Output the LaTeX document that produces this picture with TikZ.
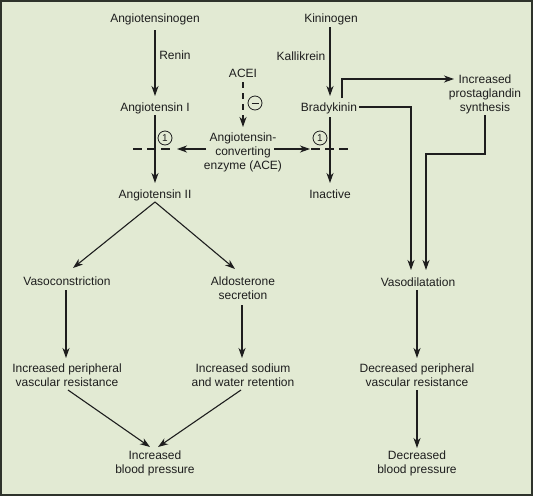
\documentclass[tikz,border=0pt]{standalone}
\usepackage{fontspec}
\setmainfont{Liberation Sans}
\usetikzlibrary{arrows.meta,calc}
\definecolor{bg}{HTML}{E2EAD3}
\definecolor{ink}{HTML}{1E1E1E}
\definecolor{frame}{HTML}{2E332B}
\begin{document}
\begin{tikzpicture}[x=1pt,y=-1pt,
  lbl/.style={anchor=base,inner sep=0pt,align=center,font=\fontsize{12}{14}\selectfont,text=ink},
  arr/.style={draw=ink,line width=1.1pt,-{Stealth[length=10pt,width=7pt,inset=3pt]}},
  ln/.style={draw=ink,line width=1.1pt},
  dsh/.style={draw=ink,line width=1.1pt,dash pattern=on 9pt off 5pt},
  vdsh/.style={draw=ink,line width=1.1pt,dash pattern=on 6pt off 5pt,-{Stealth[length=10pt,width=7pt,inset=3pt]}},
  num/.style={circle,draw=ink,line width=0.8pt,inner sep=0pt,minimum size=14pt,font=\fontsize{10}{10}\selectfont,text=ink}]
\fill[bg] (0,0) rectangle (533,496);
\draw[frame,line width=2pt] (1,1) rectangle (532,495);
\useasboundingbox (0,0) rectangle (533,496);

% nodes (anchor base = baseline of last line)
\node[lbl] (agen) at (155,22) {Angiotensinogen};
\node[lbl] (renin) at (175,59) {Renin};
\node[lbl] (ang1) at (155,111) {Angiotensin I};
\node[lbl] (acei) at (243,77) {ACEI};
\node[lbl] (ace) at (243,169) {Angiotensin-\\converting\\enzyme (ACE)};
\node[lbl] (ang2) at (155,198) {Angiotensin II};
\node[lbl] (kgen) at (331,22) {Kininogen};
\node[lbl] (kall) at (301,60) {Kallikrein};
\node[lbl] (brady) at (329,111) {Bradykinin};
\node[lbl] (inact) at (330,198) {Inactive};
\node[lbl] (prost) at (485,111) {Increased\\prostaglandin\\synthesis};
\node[lbl] (vdil) at (418,286) {Vasodilatation};
\node[lbl] (vcon) at (67,285) {Vasoconstriction};
\node[lbl] (aldo) at (243,299) {Aldosterone\\secretion};
\node[lbl] (ipvr) at (67,386) {Increased peripheral\\vascular resistance};
\node[lbl] (isw) at (243,386) {Increased sodium\\and water retention};
\node[lbl,font=\fontsize{12}{13.5}\selectfont] (ibp) at (155,473) {Increased\\blood pressure};
\node[lbl] (dpvr) at (417,386) {Decreased peripheral\\vascular resistance};
\node[lbl,font=\fontsize{12}{13.5}\selectfont] (dbp) at (417,473) {Decreased\\blood pressure};

% inhibition marks
\node[num] (minus) at (255,103) {};
\draw[ink,line width=0.9pt] ($(minus)+(-3.5,0)$) -- ($(minus)+(3.5,0)$);
\node[num] (one1) at (165,138) {1};
\node[num] (one2) at (320,138) {1};
\coordinate (blockL) at (177,149);
\coordinate (blockR) at (310,149);
\coordinate (dL1) at (133,149);
\coordinate (dL2) at (170,149);
\coordinate (dR1) at (311,149);
\coordinate (dR2) at (348,149);
\draw[dsh] (dL1) -- (dL2);
\draw[dsh] (dR1) -- (dR2);

% connectors
\draw[arr] ($(agen.base)+(0,8)$) -- ($(ang1.base)+(0,-15)$);
\draw[arr] ($(ang1.base)+(0,4)$) -- ($(ang2.base)+(0,-15)$);
\draw[vdsh] ($(acei.base)+(0,5)$) -- ($(ace.base)+(0,-42)$);
\draw[arr] ($(ace.base)+(-37,-20)$) -- (blockL);
\draw[arr] ($(ace.base)+(31,-20)$) -- (blockR);
\draw[arr] ($(kgen.base)+(-1,5)$) -- ($(brady.base)+(1,-15)$);
\draw[arr] ($(brady.base)+(1,6)$) -- ($(inact.base)+(0,-15)$);
\draw[arr] ($(brady.base)+(13,-13)$) |- ($(prost.base)+(-31,-32)$);
\draw[arr] ($(brady.base)+(30,-4)$) -| ($(vdil.base)+(-7,-16)$);
\draw[arr] ($(prost.base)+(0,4)$) |- ($(vdil.base)+(8,-132)$) -- ($(vdil.base)+(8,-16)$);
\draw[arr] ($(ang2.base)+(0,4)$) -- ($(vcon.base)+(6,-17)$);
\draw[arr] ($(ang2.base)+(0,4)$) -- ($(aldo.base)+(-8,-30)$);
\draw[arr] ($(vcon.base)+(-1,5)$) -- ($(ipvr.base)+(-1,-28)$);
\draw[arr] ($(aldo.base)+(-1,6)$) -- ($(isw.base)+(-1,-28)$);
\draw[arr] ($(ipvr.base)+(1,4)$) -- ($(ibp.base)+(-5,-26)$);
\draw[arr] ($(isw.base)+(-2,4)$) -- ($(ibp.base)+(3,-26)$);
\draw[arr] ($(vdil.base)+(-1,4)$) -- ($(dpvr.base)+(0,-28)$);
\draw[arr] ($(dpvr.base)+(0,4)$) -- ($(dbp.base)+(0,-25)$);
\end{tikzpicture}
\end{document}
